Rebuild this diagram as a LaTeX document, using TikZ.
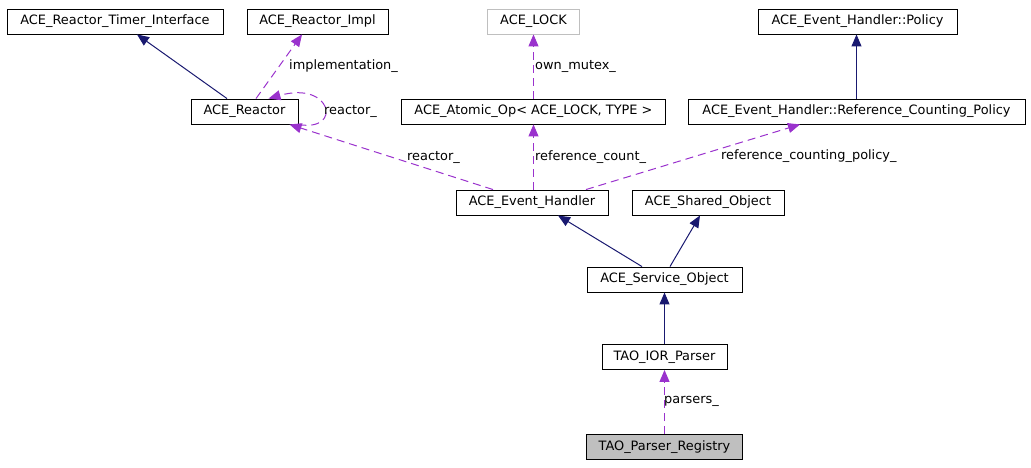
\documentclass[tikz,border=0pt]{standalone}
\usepackage{fontspec}
\setmainfont{DejaVu Sans}
\usetikzlibrary{arrows.meta, calc}

\definecolor{navyedge}{RGB}{25,25,112}
\definecolor{memberedge}{RGB}{154,50,205}
\definecolor{boxgray}{RGB}{191,191,191}

\begin{document}
\begin{tikzpicture}[x=1pt, y=-1pt,
  every node/.style={font=\fontsize{12.9}{15}\selectfont},
  cls/.style={draw, line width=0.9pt, minimum height=25pt, inner sep=0pt},
  lbl/.style={anchor=west, inner sep=0pt},
  inherit/.style={navyedge, line width=1pt, -{Triangle[length=12pt,width=10pt]}},
  member/.style={memberedge, line width=1pt, dash pattern=on 8pt off 5pt, -{Triangle[length=12pt,width=10pt]}}]
\useasboundingbox (0,0) rectangle (1031,467);
% classes
\node[cls, minimum width=216pt] (timer) at (115,21.5) {ACE\_Reactor\_Timer\_Interface};
\node[cls, minimum width=141pt] (impl) at (317.5,21.5) {ACE\_Reactor\_Impl};
\node[cls, draw=boxgray, minimum width=92pt] (lock) at (533.5,21.5) {ACE\_LOCK};
\node[cls, minimum width=199pt] (policy) at (857.5,21.5) {ACE\_Event\_Handler::Policy};
\node[cls, minimum width=107pt] (reactor) at (244.5,111.5) {ACE\_Reactor};
\node[cls, minimum width=264pt] (atomic) at (533.5,111.5) {ACE\_Atomic\_Op\textless{} ACE\_LOCK, TYPE \textgreater};
\node[cls, minimum width=337pt] (rcpolicy) at (856.5,111.5) {ACE\_Event\_Handler::Reference\_Counting\_Policy};
\node[cls, minimum width=152pt] (eh) at (532,202.5) {ACE\_Event\_Handler};
\node[cls, minimum width=152pt] (shared) at (708,202.5) {ACE\_Shared\_Object};
\node[cls, minimum width=155pt] (service) at (664.5,279.5) {ACE\_Service\_Object};
\node[cls, minimum width=125pt] (ior) at (664.5,357) {TAO\_IOR\_Parser};
\node[cls, fill=boxgray, minimum width=156pt] (registry) at (664.5,447) {TAO\_Parser\_Registry};
% inheritance
\draw[inherit] ([xshift=-17.5pt]reactor.north) -- ([xshift=22pt]timer.south);
\draw[inherit] (rcpolicy.north) -- (rcpolicy.north |- policy.south);
\draw[inherit] ([xshift=-22.5pt]service.north) -- ([xshift=26pt]eh.south);
\draw[inherit] ([xshift=5.5pt]service.north) -- ([xshift=-8pt]shared.south);
\draw[inherit] (ior.north) -- (service.south);
% members
\draw[member] ([xshift=11.5pt]reactor.north) -- ([xshift=-15.5pt]impl.south);
\draw[member] (reactor.south east) .. controls +(44,8) and +(64,-18) .. ([xshift=24pt]reactor.north);
\draw[member] ([xshift=-39pt]eh.north) -- ([xshift=45pt]reactor.south);
\draw[member] (eh.north -| atomic.south) -- (atomic.south);
\draw[member] (atomic.north) -- (lock.south);
\draw[member] ([xshift=54pt]eh.north) -- ([xshift=-56.5pt]rcpolicy.south);
\draw[member] (registry.north) -- (ior.south);
% labels
\node[lbl] (impllbl) at (289,66) {implementation\_};
\node[lbl] (mutexlbl) at (535,66) {own\_mutex\_};
\node[lbl] (looplbl) at (324,111) {reactor\_};
\node[lbl] (reactorlbl) at (407,157) {reactor\_};
\node[lbl] (countlbl) at (535,157) {reference\_count\_};
\node[lbl] (rcplbl) at (721,156) {reference\_counting\_policy\_};
\node[lbl] (parserslbl) at (664,401) {parsers\_};
\end{tikzpicture}
\end{document}
